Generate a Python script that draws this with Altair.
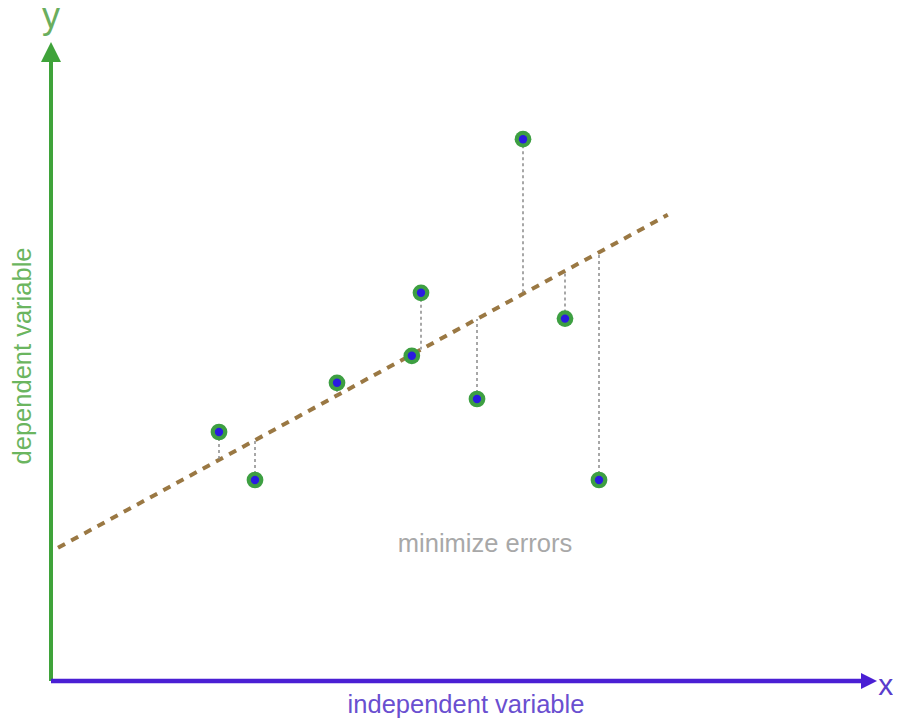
import altair as alt
import pandas as pd

# observed points (data units; origin at the axes corner)
pt_x = [2.10, 2.55, 3.575, 4.51, 4.625, 5.325, 5.9, 6.425, 6.85]
pt_y = [4.15, 3.35, 4.97, 5.42, 6.47, 4.70, 9.03, 6.04, 3.35]

# dashed regression line endpoints
line_x = [0.0875, 7.71]
line_y = [2.22, 7.77]

# axis arrows
yaxis_top = 10.317
yaxis_head = 10.483
xaxis_end = 10.125
xaxis_head = 10.225

XMIN, XMAX = -0.5375, 10.525
YMIN, YMAX = -0.6167, 11.2167

slope = (line_y[1] - line_y[0]) / (line_x[1] - line_x[0])
pts = pd.DataFrame({"x": pt_x, "y": pt_y})
pts["fit"] = line_y[0] + slope * (pts["x"] - line_x[0])
line_df = pd.DataFrame({"x": line_x, "y": line_y})

xs = alt.Scale(domain=[XMIN, XMAX], nice=False, zero=False)
ys = alt.Scale(domain=[YMIN, YMAX], nice=False, zero=False)
X = lambda f="x": alt.X(f"{f}:Q", scale=xs, axis=None)
Y = lambda f="y": alt.Y(f"{f}:Q", scale=ys, axis=None)

GREEN = "#3fa33a"
PURPLE = "#4a1fd4"
FONT = "Liberation Sans"

yaxis = alt.Chart(pd.DataFrame({"x": [0.0], "y": [0.0], "y2": [yaxis_top]})).mark_rule(
    color=GREEN, strokeWidth=4).encode(x=X(), y=Y(), y2="y2:Q")
yhead = alt.Chart(pd.DataFrame({"x": [0.0], "y": [yaxis_head]})).mark_point(
    shape="M0,-1L1,1L-1,1Z", size=400, filled=True, opacity=1, color=GREEN, strokeWidth=0
).encode(x=X(), y=Y())
xaxis = alt.Chart(pd.DataFrame({"x": [0.0], "x2": [xaxis_end], "y": [0.0]})).mark_rule(
    color=PURPLE, strokeWidth=4.5).encode(x=X(), x2="x2:Q", y=Y())
xhead = alt.Chart(pd.DataFrame({"x": [xaxis_head], "y": [0.0]})).mark_point(
    shape="M1,0L-1,-1L-1,1Z", size=256, filled=True, opacity=1, color=PURPLE, strokeWidth=0
).encode(x=X(), y=Y())

reg = alt.Chart(line_df).mark_line(
    color="#9a7843", strokeWidth=4, strokeDash=[8, 7]).encode(x=X(), y=Y())

resid = alt.Chart(pts).mark_rule(
    color="#8a8a8a", strokeWidth=1.5, strokeDash=[3, 3]).encode(x=X(), y=Y(), y2="fit:Q")

outer = alt.Chart(pts).mark_point(
    filled=True, opacity=1, color="#3d9f42", size=280, strokeWidth=0).encode(x=X(), y=Y())
inner = alt.Chart(pts).mark_point(
    filled=True, opacity=1, color="#2a1be0", size=70, strokeWidth=0).encode(x=X(), y=Y())

def label(text, x, y, **kw):
    return alt.Chart(pd.DataFrame({"x": [x], "y": [y], "t": [text]})).mark_text(
        font=FONT, **kw).encode(x=X(), y=Y(), text="t:N")

lab_y = label("y", 0.0, 10.88, fontSize=36, color="#6aae5e", align="center", baseline="alphabetic")
lab_x = label("x", 10.34, -0.233, fontSize=30, color="#5a3ccc", align="left", baseline="alphabetic")
lab_ind = label("independent variable", 5.1875, -0.533, fontSize=25.5, color="#6a4fd0",
                align="center", baseline="alphabetic")
lab_dep = label("dependent variable", -0.35, 5.417, fontSize=25.5, color="#6bb55f",
                align="center", baseline="middle", angle=270)
lab_min = label("minimize errors", 5.425, 2.15, fontSize=25.5, color="#a8a8a8",
                align="center", baseline="alphabetic")

chart = alt.layer(
    yaxis, yhead, xaxis, xhead, reg, resid, outer, inner,
    lab_y, lab_x, lab_ind, lab_dep, lab_min
).properties(
    width=885, height=710,
    autosize=alt.AutoSizeParams(type="none"),
    padding=0,
).configure_view(stroke=None)

chart.save("out.html", embed_options={"renderer": "svg", "actions": False})
